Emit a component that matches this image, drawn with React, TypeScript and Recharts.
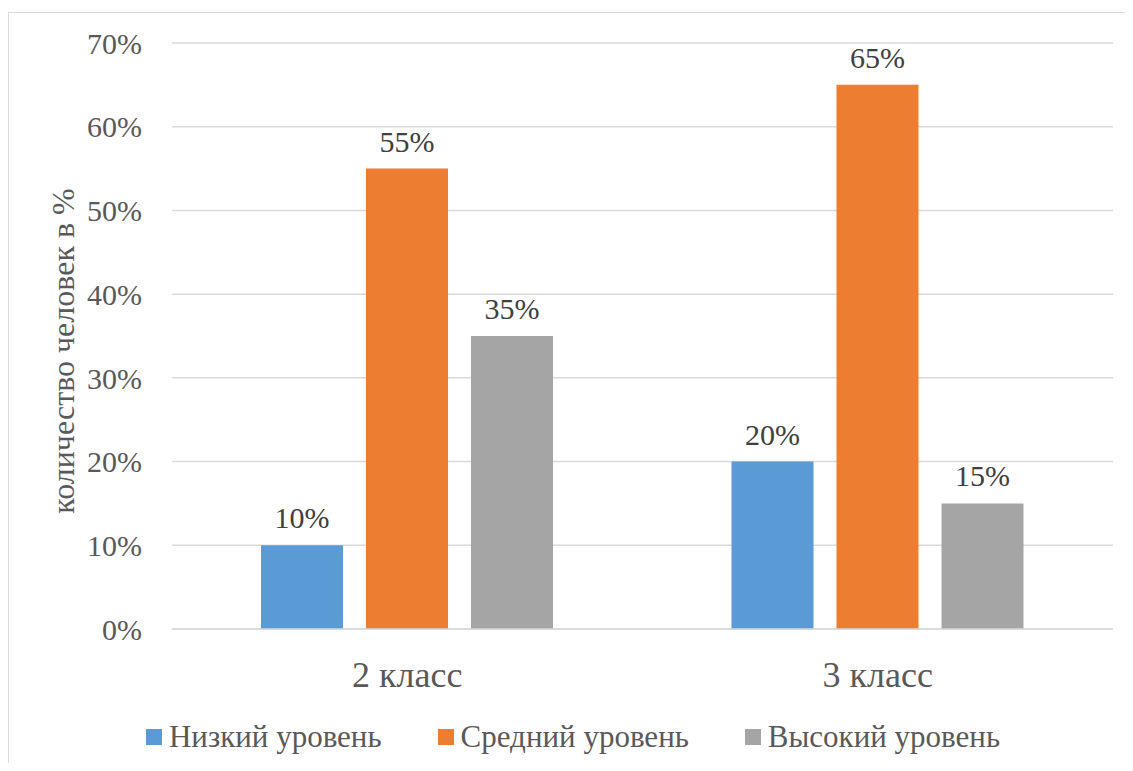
import React from 'react';
import {
  BarChart,
  Bar,
  XAxis,
  YAxis,
  CartesianGrid,
  Legend,
  LabelList,
} from 'recharts';

const categories = ['2 класс', '3 класс'];
const lowLevel = [10, 20];
const midLevel = [55, 65];
const highLevel = [35, 15];
const yTicks = [0, 10, 20, 30, 40, 50, 60, 70];

const seriesNames = ['Низкий уровень', 'Средний уровень', 'Высокий уровень'];
const seriesColors = ['#5B9BD5', '#ED7D31', '#A5A5A5'];

const data = categories.map((cat, i) => ({
  cat,
  low: lowLevel[i],
  mid: midLevel[i],
  high: highLevel[i],
}));

const FONT = 'Liberation Serif, Tinos, DejaVu Serif, Times New Roman, serif';
const TEXT = '#595959';
const GRID = '#d9d9d9';

const pct = (v: any) => `${v}%`;

function LegendContent() {
  return (
    <div
      style={{
        display: 'flex',
        justifyContent: 'center',
        alignItems: 'center',
        height: 52,
        paddingLeft: 24,
        fontFamily: FONT,
      }}
    >
      {seriesNames.map((name, i) => (
        <div
          key={name}
          style={{
            display: 'flex',
            alignItems: 'center',
            marginRight: i < seriesNames.length - 1 ? 56 : 0,
          }}
        >
          <span
            style={{
              display: 'inline-block',
              width: 16,
              height: 16,
              background: seriesColors[i],
              marginRight: 7,
            }}
          />
          <span style={{ fontSize: 31, color: TEXT }}>{name}</span>
        </div>
      ))}
    </div>
  );
}

function YLabel(props: any) {
  const { viewBox } = props;
  const cx = 54;
  const cy = viewBox.y + viewBox.height / 2 + 15;
  return (
    <text
      x={cx}
      y={cy}
      transform={`rotate(-90, ${cx}, ${cy})`}
      textAnchor="middle"
      dominantBaseline="central"
      fill={TEXT}
      fontSize={32}
      style={{ fontFamily: FONT }}
    >
      количество человек в %
    </text>
  );
}

export default function App() {
  return (
    <div style={{ paddingTop: 4, fontFamily: FONT }}>
      <div
        style={{
          borderTop: `1px solid ${GRID}`,
          borderLeft: `1px solid ${GRID}`,
          width: 1124,
          height: 750,
        }}
      >
        <BarChart
          width={1124}
          height={750}
          data={data}
          margin={{ top: 30, right: 20, left: 0, bottom: 0 }}
          barSize={82}
          barGap={23}
          style={{ fontFamily: FONT }}
        >
          <CartesianGrid vertical={false} stroke={GRID} strokeWidth={1.5} />
          <XAxis
            dataKey="cat"
            height={82}
            tickLine={false}
            axisLine={{ stroke: GRID, strokeWidth: 1.5 }}
            tickMargin={26}
            tick={{ fontSize: 36, fill: TEXT, style: { fontFamily: FONT } }}
          />
          <YAxis
            width={163}
            domain={[0, 70]}
            ticks={yTicks}
            tickFormatter={pct}
            tickLine={false}
            axisLine={false}
            tickSize={30}
            tickMargin={0}
            tick={{ fontSize: 30, fill: TEXT, style: { fontFamily: FONT } }}
            label={<YLabel />}
          />
          <Legend verticalAlign="bottom" content={<LegendContent />} />
          <Bar dataKey="low" name={seriesNames[0]} fill={seriesColors[0]} isAnimationActive={false}>
            <LabelList dataKey="low" position="top" offset={17} formatter={pct} fill="#404040" fontSize={30} style={{ fontFamily: FONT }} />
          </Bar>
          <Bar dataKey="mid" name={seriesNames[1]} fill={seriesColors[1]} isAnimationActive={false}>
            <LabelList dataKey="mid" position="top" offset={17} formatter={pct} fill="#404040" fontSize={30} style={{ fontFamily: FONT }} />
          </Bar>
          <Bar dataKey="high" name={seriesNames[2]} fill={seriesColors[2]} isAnimationActive={false}>
            <LabelList dataKey="high" position="top" offset={17} formatter={pct} fill="#404040" fontSize={30} style={{ fontFamily: FONT }} />
          </Bar>
        </BarChart>
      </div>
    </div>
  );
}
